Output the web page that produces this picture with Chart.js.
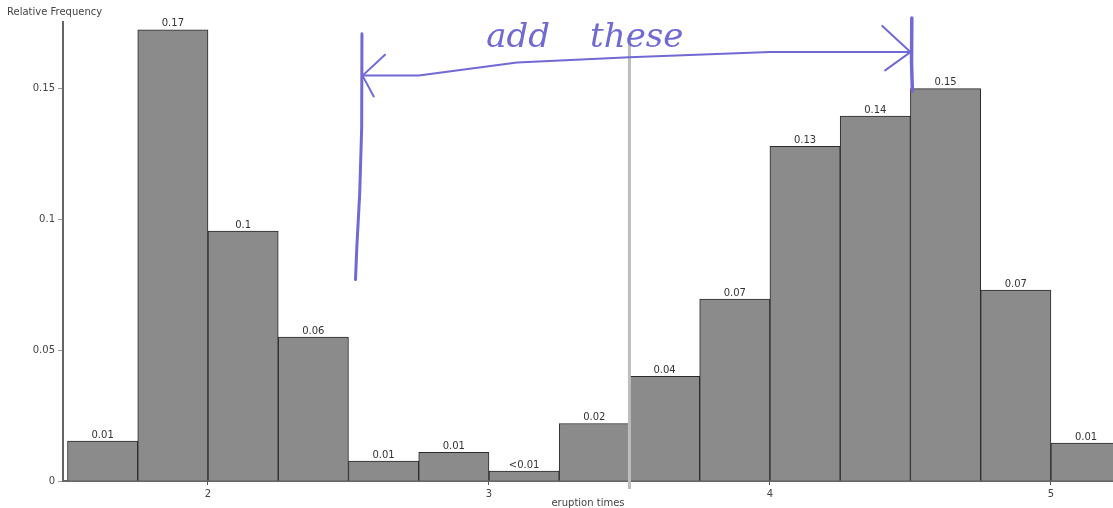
<!DOCTYPE html>
<html>
<head>
<meta charset="utf-8">
<script src="https://cdn.jsdelivr.net/npm/chart.js@4.4.0/dist/chart.umd.min.js"></script>
<style>
  html, body { margin: 0; padding: 0; background: #fff; }
  #wrap { width: 1113px; height: 508px; }
</style>
</head>
<body>
<div id="wrap"><canvas id="histChart"></canvas></div>
<script>
// eruption time histogram, bins of 0.25
const binStarts = [1.5, 1.75, 2.0, 2.25, 2.5, 2.75, 3.0, 3.25, 3.5, 3.75, 4.0, 4.25, 4.5, 4.75, 5.0];
const relFreq = [0.0153, 0.1725, 0.0956, 0.055, 0.0076, 0.011, 0.0038, 0.022, 0.040, 0.0696, 0.128, 0.1395, 0.150, 0.073, 0.0145];
const barLabels = ['0.01', '0.17', '0.1', '0.06', '0.01', '0.01', '<0.01', '0.02', '0.04', '0.07', '0.13', '0.14', '0.15', '0.07', '0.01'];
const xTickValues = [2, 3, 4, 5];
const yTickValues = [0, 0.05, 0.1, 0.15];
const yTickLabels = ['0', '0.05', '0.1', '0.15'];
const binWidth = 0.25;

const points = binStarts.map((s, i) => ({ x: s + binWidth / 2, y: relFreq[i] }));

const inkColor = '#7169d4';
const font10 = '10px "DejaVu Sans"';

// bar value labels, y title, marker line and the handwritten note
const extras = {
  id: 'extras',
  afterDatasetsDraw(chart) {
    const ctx = chart.ctx;
    const xs = chart.scales.x, ys = chart.scales.y;
    const area = chart.chartArea;
    const P = (xv, yv) => [xs.getPixelForValue(xv), ys.getPixelForValue(yv)];

    ctx.save();
    ctx.font = font10;
    ctx.fillStyle = '#333';
    ctx.textAlign = 'center';
    ctx.textBaseline = 'bottom';
    chart.getDatasetMeta(0).data.forEach((bar, i) => {
      ctx.fillText(barLabels[i], bar.x, bar.y - 1);
    });

    ctx.textAlign = 'left';
    ctx.textBaseline = 'alphabetic';
    ctx.fillStyle = '#444';
    ctx.fillText('Relative Frequency', 7, area.top - 7);

    // grey marker line
    const mx = xs.getPixelForValue(3.5);
    ctx.strokeStyle = '#bdbdbd';
    ctx.lineWidth = 3;
    ctx.beginPath();
    ctx.moveTo(mx, area.top + 20);
    ctx.lineTo(mx, area.bottom + 8);
    ctx.stroke();

    // handwritten note
    ctx.strokeStyle = inkColor;
    ctx.lineCap = 'round';
    ctx.lineJoin = 'round';
    const path = (pts, w) => {
      ctx.lineWidth = w;
      ctx.beginPath();
      pts.forEach((p, k) => {
        const [px, py] = P(p[0], p[1]);
        if (k === 0) ctx.moveTo(px, py); else ctx.lineTo(px, py);
      });
      ctx.stroke();
    };
    path([[2.548, 0.171], [2.547, 0.135], [2.540, 0.110], [2.530, 0.090], [2.525, 0.077]], 3);
    path([[4.505, 0.177], [4.504, 0.160], [4.507, 0.149]], 3.5);
    path([[2.55, 0.155], [2.75, 0.155], [3.1, 0.160], [3.5, 0.162], [4.0, 0.164], [4.5, 0.164]], 2);
    path([[2.63, 0.163], [2.55, 0.155], [2.59, 0.147]], 2);
    path([[4.40, 0.174], [4.50, 0.164], [4.41, 0.157]], 2);

    ctx.fillStyle = inkColor;
    ctx.font = 'italic 34px "DejaVu Serif"';
    let [tx, ty] = P(2.99, 0.166);
    ctx.fillText('add', tx, ty);
    [tx, ty] = P(3.36, 0.166);
    ctx.fillText('these', tx, ty);
    ctx.restore();
  }
};

new Chart(document.getElementById('histChart'), {
  type: 'bar',
  data: {
    datasets: [{
      data: points,
      backgroundColor: '#8b8b8b',
      borderColor: '#2a2a2a',
      borderWidth: 1,
      borderSkipped: 'bottom',
      barPercentage: 1,
      categoryPercentage: 1
    }]
  },
  options: {
    responsive: true,
    maintainAspectRatio: false,
    animation: false,
    layout: { padding: { top: 22, left: 0, right: 0, bottom: 0 } },
    plugins: {
      legend: { display: false },
      tooltip: { enabled: false }
    },
    scales: {
      x: {
        type: 'linear',
        offset: false,
        min: 1.484,
        max: 5.221,
        afterBuildTicks(axis) { axis.ticks = xTickValues.map(v => ({ value: v })); },
        afterFit(axis) { axis.height = 27; },
        ticks: {
          color: '#444',
          font: { family: 'DejaVu Sans', size: 10 },
          padding: 3,
          maxRotation: 0,
          callback: v => String(v)
        },
        grid: { display: true, offset: false, drawOnChartArea: false, tickLength: 4, color: '#555' },
        border: { display: true, color: '#666', width: 2, dash: [1, 1] },
        title: {
          display: true,
          text: 'eruption times',
          color: '#444',
          font: { family: 'DejaVu Sans', size: 10, lineHeight: 1 },
          padding: { top: 0, bottom: 0 }
        }
      },
      y: {
        min: 0,
        max: 0.1755,
        afterBuildTicks(axis) { axis.ticks = yTickValues.map(v => ({ value: v })); },
        afterFit(axis) { axis.width = 63; },
        ticks: {
          color: '#444',
          font: { family: 'DejaVu Sans', size: 10 },
          padding: 3,
          callback: (v, i) => yTickLabels[i]
        },
        grid: { display: true, drawOnChartArea: false, tickLength: 5, color: '#999' },
        border: { display: true, color: '#666', width: 2 }
      }
    }
  },
  plugins: [extras]
});
</script>
</body>
</html>
